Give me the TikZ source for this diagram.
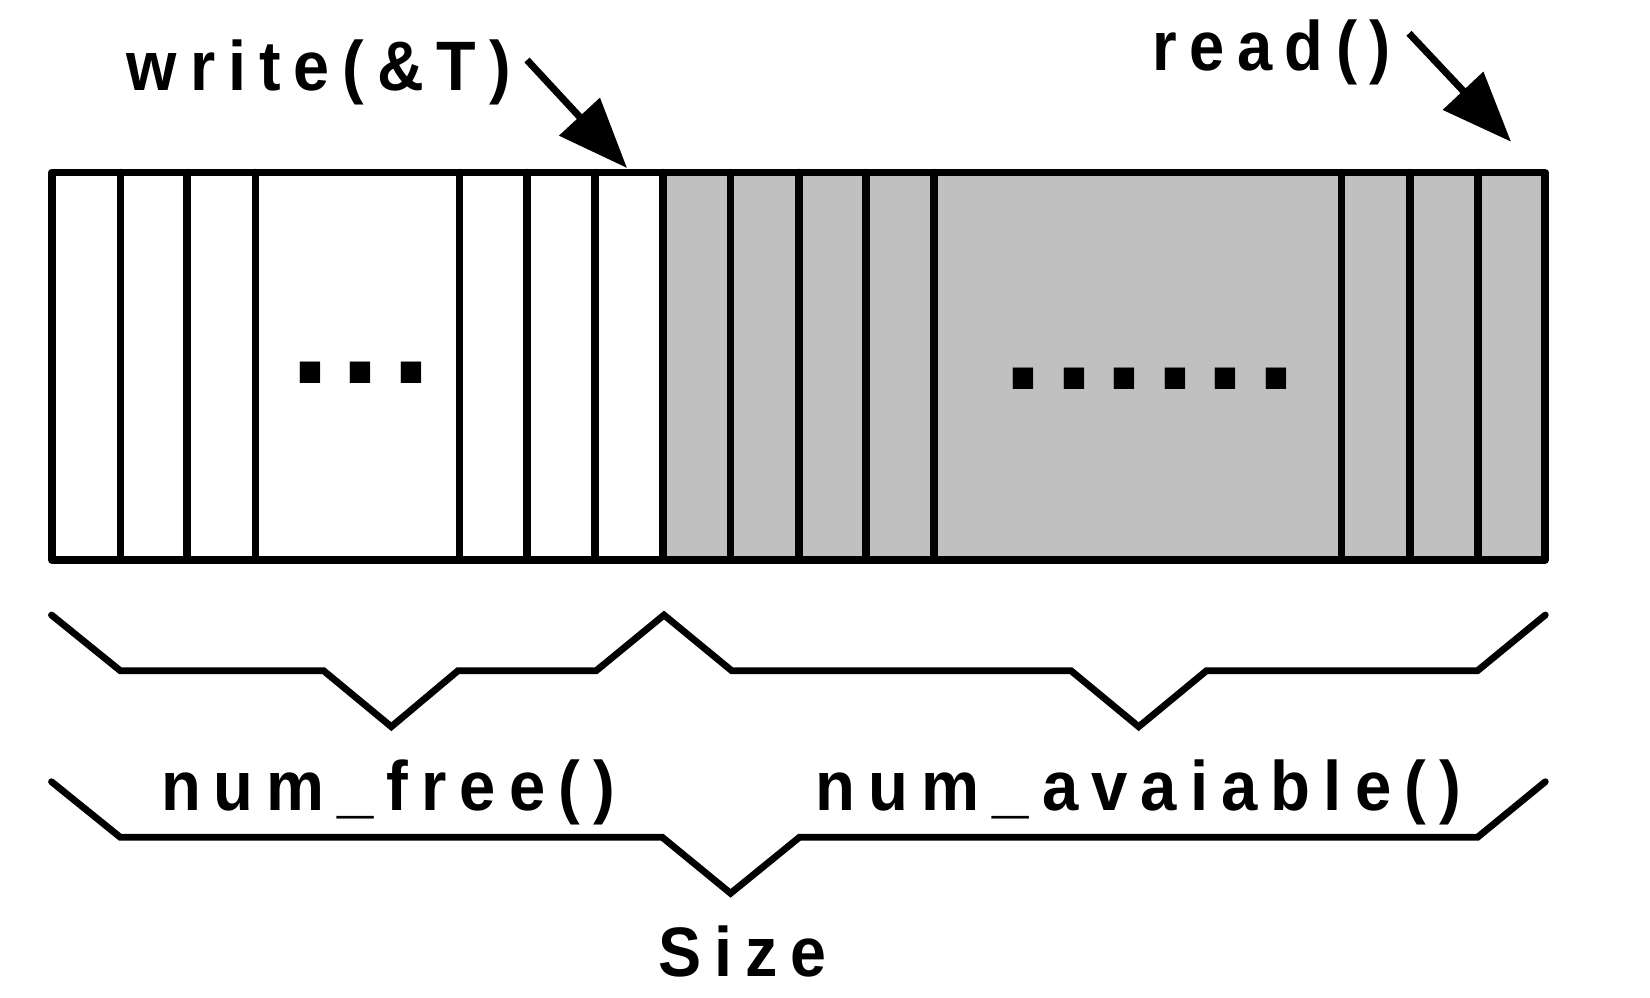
\documentclass[tikz,border=0pt]{standalone}
\usepackage{fontspec}
\setmainfont{Liberation Sans}
\usetikzlibrary{arrows.meta}
\definecolor{cellgrey}{HTML}{C0C0C0}
\newdimen\lsp
\def\spc#1{\spcA#1\relax}
\def\spcA#1{\ifx#1\relax\else#1\expandafter\spcB\fi}
\def\spcB#1{\ifx#1\relax\else\kern\lsp#1\expandafter\spcB\fi}
\tikzset{
  lbl/.style={inner sep=0pt, anchor=base, font=\bfseries\fontsize{35pt}{40pt}\selectfont},
  dotlbl/.style={inner sep=0pt, anchor=base, font=\bfseries\fontsize{72pt}{80pt}\selectfont},
  cellline/.style={line width=3.75pt, line join=round, line cap=round},
  ptr/.style={line width=3.5pt, -{Triangle[length=35pt, width=27pt]}},
  brace/.style={line width=3.4pt, line cap=round}
}
\begin{document}
\begin{tikzpicture}[x=0.5pt, y=-0.5pt]
\useasboundingbox (0,0) rectangle (1650,997);
% buffer
\fill[white] (52,172.5) rectangle (663,560);
\fill[cellgrey] (663,172.5) rectangle (1545,560);
\foreach \x in {120.6,187,255.4,459.5,526.9,595.2,663,730.7,799,866,934.2,1341.7,1409.9,1478}
  \draw[cellline] (\x,172.5) -- (\x,560);
\draw[cellline] (52,172.5) rectangle (1545,560);
% ellipses inside cells
\node[dotlbl] (dotsw) at (361,383) {\lsp=5.25pt\spc{...}};
\node[dotlbl] (dotsg) at (1150,389) {\lsp=5.25pt\spc{......}};
% labels
\node[lbl] (write) at (319,90.7) {\resizebox{192pt}{\height}{\lsp=0.2em\spc{write(\&T)}}};
\node[lbl] (read) at (1271.5,70) {\resizebox{119.5pt}{\height}{\lsp=0.2em\spc{read()}}};
\node[lbl] (free) at (388,810) {\resizebox{227pt}{\height}{\lsp=0.2em\spc{num\_free()}}};
\node[lbl] (avail) at (1138.5,810) {\resizebox{322.5pt}{\height}{\lsp=0.2em\spc{num\_avaiable()}}};
\node[lbl] (size) at (742.5,976.7) {\resizebox{84pt}{\height}{\lsp=0.2em\spc{Size}}};
% arrows
\coordinate (wA) at (527,60);
\coordinate (wB) at (627,168);
\coordinate (rA) at (1409,33.3);
\coordinate (rB) at (1511,141.7);
\draw[ptr] (wA) -- (wB);
\draw[ptr] (rA) -- (rB);
% braces
\draw[brace] (51.5,615) -- (120.3,670.7) -- (323.6,670.7) -- (391.3,726.7) -- (458,670.7) -- (596.2,670.7) -- (664,615) -- (731.7,670.7) -- (1071,670.7) -- (1138.7,726.7) -- (1206.5,670.7) -- (1477.5,670.7) -- (1545.3,615);
\draw[brace] (51.5,781.7) -- (120.3,837.3) -- (662.3,837.3) -- (730.6,893.3) -- (799.4,837.3) -- (1477.5,837.3) -- (1545.3,781.7);
\end{tikzpicture}
\end{document}
